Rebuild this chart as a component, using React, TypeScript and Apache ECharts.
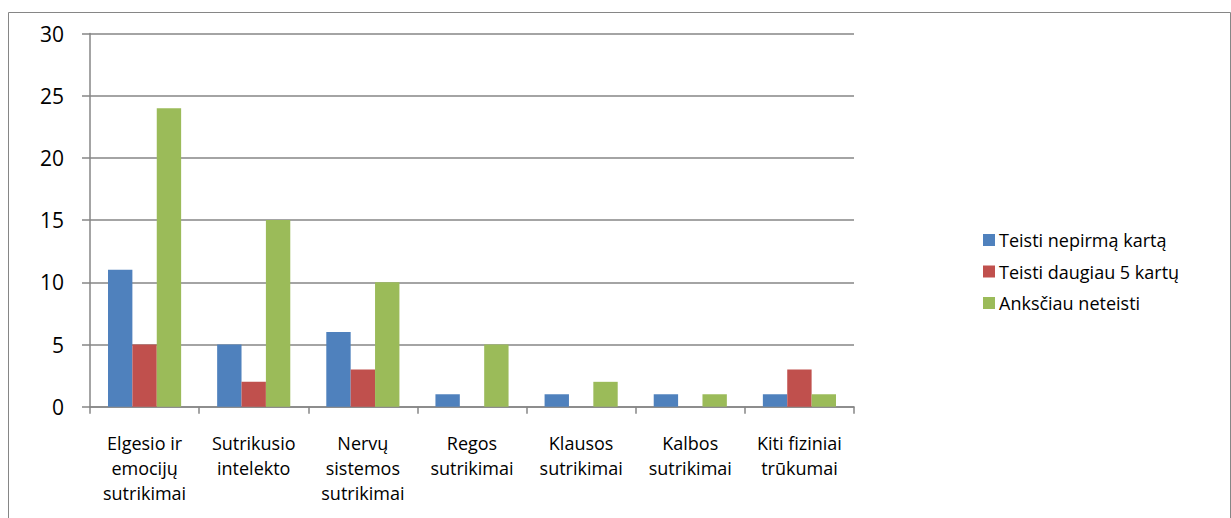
import React, { useEffect, useRef } from "react";
import * as echarts from "echarts";

const categories = [
  "Elgesio ir\nemocijų\nsutrikimai",
  "Sutrikusio\nintelekto",
  "Nervų\nsistemos\nsutrikimai",
  "Regos\nsutrikimai",
  "Klausos\nsutrikimai",
  "Kalbos\nsutrikimai",
  "Kiti fiziniai\ntrūkumai",
];
const seriesNames = ["Teisti nepirmą kartą", "Teisti daugiau 5 kartų", "Anksčiau neteisti"];
const teistiNepirma = [11, 5, 6, 1, 1, 1, 1];
const teistiDaugiau5 = [5, 2, 3, 0, 0, 0, 3];
const anksciauNeteisti = [24, 15, 10, 5, 2, 1, 1];
const colors = ["#4F81BD", "#C0504D", "#9BBB59"];

const FONT = "'Open Sans', 'Noto Sans', sans-serif";
const GRAY = "#868686";

export default function App() {
  const ref = useRef<HTMLDivElement>(null);
  useEffect(() => {
    if (!ref.current) return;
    const chart = echarts.init(ref.current, null, { renderer: "svg" });
    const values = [teistiNepirma, teistiDaugiau5, anksciauNeteisti];
    chart.setOption({
      animation: false,
      backgroundColor: "#fff",
      grid: { left: 90, right: 377, top: 33.5, bottom: 111.3 },
      graphic: [
        {
          type: "rect",
          shape: { x: 8.5, y: 12.5, width: 1222, height: 600 },
          style: { fill: "none", stroke: GRAY, lineWidth: 1 },
          silent: true,
          z: 0,
        },
      ],
      legend: {
        orient: "vertical",
        left: 978,
        top: 225,
        itemWidth: 12,
        itemHeight: 12,
        itemGap: 11.5,
        icon: "rect",
        textStyle: { fontFamily: FONT, fontSize: 18, color: "#000", lineHeight: 20, padding: [0, 0, 0, -1] },
        data: seriesNames,
      },
      xAxis: {
        type: "category",
        data: categories,
        axisLine: { show: true, lineStyle: { color: GRAY, width: 1.5 } },
        axisTick: { show: true, length: 7, alignWithLabel: false, lineStyle: { color: GRAY, width: 1.5 } },
        axisLabel: {
          interval: 0,
          margin: 24,
          fontFamily: FONT,
          fontSize: 18,
          lineHeight: 25,
          color: "#000",
        },
        splitLine: { show: false },
      },
      yAxis: {
        type: "value",
        min: 0,
        max: 30,
        interval: 5,
        axisLine: { show: true, lineStyle: { color: GRAY, width: 1.5 } },
        axisTick: { show: true, length: 8, lineStyle: { color: GRAY, width: 1.5 } },
        axisLabel: { margin: 26, fontFamily: FONT, fontSize: 21, color: "#000" },
        splitLine: { show: true, lineStyle: { color: GRAY, width: 1.5 } },
      },
      series: seriesNames.map((name, i) => ({
        name,
        type: "bar",
        data: values[i],
        barGap: "0%",
        barCategoryGap: "33%",
        itemStyle: { color: colors[i] },
      })),
    });
    return () => chart.dispose();
  }, []);
  return (
    <div
      ref={ref}
      style={{ position: "absolute", left: 0, top: 0, width: 1231, height: 518 }}
    />
  );
}
